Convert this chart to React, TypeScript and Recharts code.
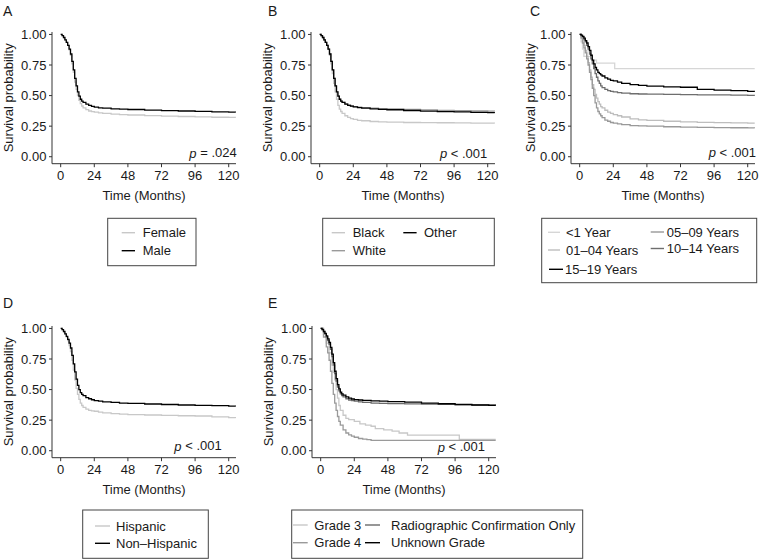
import React from 'react';
import { LineChart, Line, XAxis, YAxis } from 'recharts';

const FONT = "'Liberation Sans', Arial, Helvetica, sans-serif";
const INK = '#1a1a1a';

const xTicks = [0, 24, 48, 72, 96, 120];
const yTicks = [0, 0.25, 0.5, 0.75, 1];
const xTitleText = 'Time (Months)';
const yTitleText = 'Survival probability';

const months = [0, 1, 2, 3, 4, 5, 6, 7, 8, 9, 10, 11, 12, 13, 14, 15, 16, 18, 20, 22, 24, 27, 30, 36, 42, 48, 60, 72, 84, 96, 108, 120, 125];

// Panel A: sex
const femaleSurv = [1, .99, .975, .955, .935, .91, .875, .83, .76, .69, .61, .55, .50, .46, .435, .415, .40, .385, .374, .368, .365, .358, .354, .348, .344, .341, .336, .332, .329, .326, .323, .321, .32];
const maleSurv = [1, .99, .975, .955, .935, .91, .88, .84, .78, .71, .64, .58, .53, .495, .47, .455, .445, .43, .42, .412, .405, .40, .397, .392, .389, .386, .381, .377, .374, .371, .367, .364, .363];

// Panel B: race
const blackSurv = [1, .99, .975, .955, .935, .91, .88, .83, .76, .68, .60, .53, .47, .42, .39, .37, .355, .335, .322, .312, .305, .298, .294, .288, .285, .283, .28, .279, .278, .277, .275, .274, .273];
const whiteSurv = [1, .99, .975, .955, .935, .91, .88, .84, .78, .71, .64, .58, .53, .495, .47, .455, .445, .432, .422, .415, .41, .405, .401, .397, .394, .391, .387, .383, .379, .376, .374, .373, .372];
const otherSurv = [1, .99, .975, .955, .935, .91, .88, .84, .78, .71, .64, .58, .53, .495, .47, .455, .445, .43, .42, .413, .407, .402, .398, .392, .388, .384, .378, .373, .369, .366, .363, .36, .359];

// Panel C: age group
const lt1Times = [0, 1, 2, 3, 9, 12, 25, 125];
const lt1Surv = [1, .94, .88, .82, .79, .765, .72, .72];
const age1to4Surv = [1, .98, .95, .91, .87, .82, .77, .71, .65, .59, .55, .51, .48, .45, .43, .41, .40, .38, .365, .355, .345, .335, .325, .31, .302, .297, .29, .285, .281, .279, .277, .275, .275];
const age5to9Surv = [1, .97, .93, .89, .85, .80, .75, .69, .63, .56, .50, .44, .40, .37, .35, .335, .32, .30, .29, .28, .275, .268, .262, .255, .252, .25, .245, .242, .24, .238, .237, .236, .235];
const age10to14Surv = [1, .99, .98, .96, .94, .91, .88, .84, .80, .76, .72, .68, .65, .62, .60, .58, .565, .55, .54, .535, .53, .525, .52, .515, .513, .512, .51, .508, .506, .505, .503, .502, .50];
const age15to19Surv = [1, .995, .985, .97, .95, .93, .90, .87, .83, .79, .76, .73, .71, .69, .68, .67, .66, .645, .635, .625, .62, .61, .60, .59, .583, .578, .572, .568, .55, .545, .54, .535, .533];

// Panel D: ethnicity
const hispSurv = [1, .99, .975, .955, .93, .90, .86, .81, .74, .66, .58, .51, .46, .42, .39, .37, .355, .34, .33, .326, .323, .315, .31, .303, .299, .296, .292, .289, .286, .284, .276, .27, .268];
const nonHispSurv = [1, .99, .975, .955, .935, .91, .88, .84, .78, .71, .645, .585, .535, .50, .475, .46, .45, .435, .425, .417, .41, .405, .40, .395, .39, .387, .382, .378, .374, .371, .368, .365, .364];

// Panel E: grade
const grade3Times = [0, 2, 4, 6, 8, 9, 10, 11, 12, 13, 14, 16, 18, 20, 24, 28, 32, 36, 39, 45, 51, 56, 62, 99, 125];
const grade3Surv = [1, .95, .88, .80, .70, .64, .58, .50, .43, .37, .33, .29, .265, .255, .24, .22, .21, .20, .18, .17, .16, .145, .127, .092, .092];
const grade4Times = [0, 2, 4, 5, 6, 7, 8, 9, 10, 11, 12, 13, 14, 16, 18, 20, 22, 24, 27, 30, 33, 36, 125];
const grade4Surv = [1, .93, .85, .80, .74, .65, .55, .46, .39, .33, .28, .24, .21, .17, .145, .13, .12, .11, .10, .095, .09, .085, .085];
const radioSurv = [1, .99, .975, .955, .93, .90, .87, .83, .77, .70, .63, .57, .52, .49, .465, .45, .44, .425, .415, .41, .405, .40, .395, .39, .387, .385, .383, .381, .379, .377, .374, .371, .37];
const unknownSurv = [1, .99, .975, .96, .94, .915, .885, .845, .79, .72, .65, .59, .54, .505, .48, .465, .455, .44, .43, .423, .418, .415, .412, .408, .405, .402, .397, .39, .384, .378, .374, .372, .371];

const LIGHT = '#c8c8c8';
const MID = '#9a9a9a';
const DARK = '#6a6a6a';
const BLACK = '#000000';
const C_LT1 = '#d6d6d6';
const C_1_4 = '#bdbdbd';
const C_5_9 = '#999999';
const C_10_14 = '#6e6e6e';

const pts = (t: number[], s: number[]) => t.map((x, i) => ({ t: x, s: s[i] }));

const PLOT_W = 184;
const PLOT_H = 131.7;
const Y_W = 52;
const X_H = 45;
const M_TOP = 10;
const M_RIGHT = 14;
const X_DOMAIN: [number, number] = [-6.2, 125.2];
const Y_DOMAIN: [number, number] = [-0.057, 1.02];

type Series = { name: string; t: number[]; s: number[]; color: string };

type PanelCfg = {
  letter: string;
  letterX: number;
  letterY: number;
  left: number;
  top: number;
  yTitleGap: number;
  series: Series[];
  pRel: string;
  pRight: number;
  pCy: number;
};

const panels: PanelCfg[] = [
  {
    letter: 'A', letterX: 3, letterY: 10.5, left: 52.3, top: 31.6, yTitleGap: 43.3,
    series: [
      { name: 'Female', t: months, s: femaleSurv, color: LIGHT },
      { name: 'Male', t: months, s: maleSurv, color: BLACK },
    ],
    pRel: ' = .024', pRight: 236.7, pCy: 152.7,
  },
  {
    letter: 'B', letterX: 268, letterY: 10.5, left: 310.7, top: 31.6, yTitleGap: 44,
    series: [
      { name: 'Black', t: months, s: blackSurv, color: LIGHT },
      { name: 'White', t: months, s: whiteSurv, color: MID },
      { name: 'Other', t: months, s: otherSurv, color: BLACK },
    ],
    pRel: ' < .001', pRight: 487.3, pCy: 153,
  },
  {
    letter: 'C', letterX: 530, letterY: 10.5, left: 570.7, top: 31.6, yTitleGap: 40.7,
    series: [
      { name: '<1 Year', t: lt1Times, s: lt1Surv, color: C_LT1 },
      { name: '01–04 Years', t: months, s: age1to4Surv, color: C_1_4 },
      { name: '05–09 Years', t: months, s: age5to9Surv, color: C_5_9 },
      { name: '10–14 Years', t: months, s: age10to14Surv, color: C_10_14 },
      { name: '15–19 Years', t: months, s: age15to19Surv, color: BLACK },
    ],
    pRel: ' < .001', pRight: 756, pCy: 152,
  },
  {
    letter: 'D', letterX: 3, letterY: 303, left: 52.3, top: 325.9, yTitleGap: 44,
    series: [
      { name: 'Hispanic', t: months, s: hispSurv, color: LIGHT },
      { name: 'Non–Hispanic', t: months, s: nonHispSurv, color: BLACK },
    ],
    pRel: ' < .001', pRight: 221.7, pCy: 445.7,
  },
  {
    letter: 'E', letterX: 268, letterY: 303, left: 311.5, top: 325.9, yTitleGap: 43.2,
    series: [
      { name: 'Grade 3', t: grade3Times, s: grade3Surv, color: LIGHT },
      { name: 'Grade 4', t: grade4Times, s: grade4Surv, color: MID },
      { name: 'Radiographic Confirmation Only', t: months, s: radioSurv, color: DARK },
      { name: 'Unknown Grade', t: months, s: unknownSurv, color: BLACK },
    ],
    pRel: ' < .001', pRight: 485, pCy: 446.7,
  },
];

type LegendItem = { label: string; color: string; kx: number; kw: number; tx: number; cy: number };
type LegendCfg = { x: number; y: number; w: number; h: number; items: LegendItem[] };

const legends: LegendCfg[] = [
  {
    x: 107.7, y: 218.3, w: 88.3, h: 47.4,
    items: [
      { label: 'Female', color: LIGHT, kx: 121.7, kw: 13.3, tx: 142.7, cy: 232.7 },
      { label: 'Male', color: BLACK, kx: 121.7, kw: 13.3, tx: 142.7, cy: 250.7 },
    ],
  },
  {
    x: 322.7, y: 218.3, w: 171.6, h: 47.4,
    items: [
      { label: 'Black', color: LIGHT, kx: 331.7, kw: 13.3, tx: 352.7, cy: 232.7 },
      { label: 'White', color: MID, kx: 331.7, kw: 13.3, tx: 352.7, cy: 250.7 },
      { label: 'Other', color: BLACK, kx: 403.3, kw: 13.3, tx: 424, cy: 232.7 },
    ],
  },
  {
    x: 541.7, y: 218.3, w: 215, h: 64.4,
    items: [
      { label: '<1 Year', color: C_LT1, kx: 548, kw: 12, tx: 566, cy: 232.3 },
      { label: '01–04 Years', color: C_1_4, kx: 548, kw: 12, tx: 566, cy: 250 },
      { label: '15–19 Years', color: BLACK, kx: 549, kw: 14, tx: 565, cy: 269.3 },
      { label: '05–09 Years', color: C_5_9, kx: 650.7, kw: 13.3, tx: 666.7, cy: 232 },
      { label: '10–14 Years', color: C_10_14, kx: 650.7, kw: 13.3, tx: 666.7, cy: 248.5 },
    ],
  },
  {
    x: 82.7, y: 510, w: 125.6, h: 48.3,
    items: [
      { label: 'Hispanic', color: LIGHT, kx: 95, kw: 15, tx: 116, cy: 526 },
      { label: 'Non–Hispanic', color: BLACK, kx: 95, kw: 15, tx: 116, cy: 543.3 },
    ],
  },
  {
    x: 291.7, y: 510, w: 291, h: 48.3,
    items: [
      { label: 'Grade 3', color: LIGHT, kx: 293, kw: 14.7, tx: 314.3, cy: 525 },
      { label: 'Grade 4', color: MID, kx: 293, kw: 14.7, tx: 314.3, cy: 542.7 },
      { label: 'Radiographic Confirmation Only', color: DARK, kx: 365, kw: 15, tx: 391, cy: 525 },
      { label: 'Unknown Grade', color: BLACK, kx: 365, kw: 15, tx: 391, cy: 542.7 },
    ],
  },
];

const makeXTitle = () => (props: any) => {
  const vb = props.viewBox || {};
  return (
    <text x={vb.x + vb.width / 2} y={vb.y + 31.7} textAnchor="middle" dominantBaseline="central"
      fontSize={13} fill={INK} fontFamily={FONT}>{xTitleText}</text>
  );
};

const makeYTitle = (gap: number) => (props: any) => {
  const vb = props.viewBox || {};
  const x = vb.x + vb.width - gap;
  const y = vb.y + vb.height / 2;
  return (
    <text x={x} y={y} transform={`rotate(-90, ${x}, ${y})`} textAnchor="middle" dominantBaseline="central"
      fontSize={13} fill={INK} fontFamily={FONT}>{yTitleText}</text>
  );
};

function Panel({ cfg }: { cfg: PanelCfg }) {
  return (
    <div style={{ position: 'absolute', left: cfg.left - Y_W, top: cfg.top - M_TOP }}>
      <LineChart width={Y_W + PLOT_W + M_RIGHT} height={PLOT_H + X_H + M_TOP}
        margin={{ top: M_TOP, right: M_RIGHT, bottom: 0, left: 0 }}
        style={{ fontFamily: FONT }}>
        <XAxis type="number" dataKey="t" domain={X_DOMAIN} ticks={xTicks} allowDataOverflow interval={0}
          height={X_H} tickSize={3.5} tickMargin={4}
          axisLine={{ stroke: '#333', strokeWidth: 1 }} tickLine={{ stroke: '#333' }}
          tick={{ fill: INK, fontSize: 13, fontFamily: FONT }} label={makeXTitle()} />
        <YAxis type="number" domain={Y_DOMAIN} ticks={yTicks} allowDataOverflow interval={0}
          width={Y_W} tickSize={3} tickMargin={2.6} tickFormatter={(v: number) => v.toFixed(2)}
          axisLine={{ stroke: '#333', strokeWidth: 1 }} tickLine={{ stroke: '#333' }}
          tick={{ fill: INK, fontSize: 13, fontFamily: FONT }} label={makeYTitle(cfg.yTitleGap)} />
        {cfg.series.map((s) => (
          <Line key={s.name} name={s.name} data={pts(s.t, s.s)} dataKey="s" type="stepAfter"
            stroke={s.color} strokeWidth={1.3} dot={false} activeDot={false} isAnimationActive={false} />
        ))}
      </LineChart>
    </div>
  );
}

export default function App() {
  return (
    <div style={{ position: 'absolute', left: 0, top: 0, width: 759, height: 559, background: '#fff', overflow: 'hidden', fontFamily: FONT }}>
      {panels.map((p) => <Panel key={p.letter} cfg={p} />)}
      <svg width={759} height={559} style={{ position: 'absolute', left: 0, top: 0, pointerEvents: 'none' }}>
        {panels.map((p) => (
          <g key={p.letter}>
            <text x={p.letterX} y={p.letterY} dominantBaseline="central" fontSize={14} fill={INK} fontFamily={FONT}>{p.letter}</text>
            <text x={p.pRight} y={p.pCy} textAnchor="end" dominantBaseline="central" fontSize={13} fill={INK} fontFamily={FONT}>
              <tspan fontStyle="italic">p</tspan>{p.pRel}
            </text>
          </g>
        ))}
        {legends.map((lg, i) => (
          <g key={i}>
            <rect x={lg.x} y={lg.y} width={lg.w} height={lg.h} fill="none" stroke="#444" strokeWidth={1} />
            {lg.items.map((it) => (
              <g key={it.label}>
                <line x1={it.kx} x2={it.kx + it.kw} y1={it.cy} y2={it.cy} stroke={it.color} strokeWidth={1.4} />
                <text x={it.tx} y={it.cy} dominantBaseline="central" fontSize={13} fill={INK} fontFamily={FONT}>{it.label}</text>
              </g>
            ))}
          </g>
        ))}
      </svg>
    </div>
  );
}
